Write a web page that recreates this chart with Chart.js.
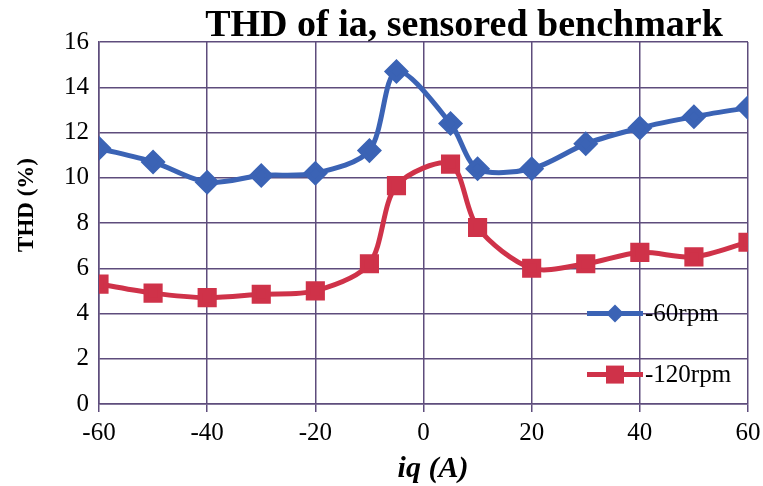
<!DOCTYPE html>
<html>
<head>
<meta charset="utf-8">
<script src="https://cdn.jsdelivr.net/npm/chart.js@4.4.1/dist/chart.umd.min.js"></script>
<style>
  html, body { margin: 0; padding: 0; background: #fff; }
  #wrap { width: 763px; height: 486px; }
</style>
</head>
<body>
<div id="wrap"><canvas id="thdChart" width="763" height="486"></canvas></div>
<script>
const iq = [-60, -50, -40, -30, -20, -10, -5, 5, 10, 20, 30, 40, 50, 60];
const thd60 = [11.3, 10.7, 9.8, 10.1, 10.2, 11.2, 14.7, 12.4, 10.4, 10.4, 11.5, 12.2, 12.7, 13.1];
const thd120 = [5.3, 4.9, 4.7, 4.85, 5.0, 6.2, 9.65, 10.6, 7.8, 6.0, 6.2, 6.7, 6.5, 7.15];
const xTicks = [-60, -40, -20, 0, 20, 40, 60];

const blue = "#3b63b5";
const red = "#cf3249";
const gridCol = "#5e4d7c";
const serif = "'Liberation Serif', 'Times New Roman', serif";

// title, axis titles and in-plot legend, drawn on the canvas
const extras = {
  id: "extras",
  afterDraw(chart) {
    const c = chart.ctx;
    c.save();
    c.fillStyle = "#000";
    c.textAlign = "center";
    c.textBaseline = "alphabetic";
    c.font = "bold 38px " + serif;
    c.fillText("THD of ia, sensored benchmark", 464, 36);

    c.font = "italic bold 30px " + serif;
    c.fillText("iq (A)", 433, 477);

    c.save();
    c.translate(27, 205);
    c.rotate(-Math.PI / 2);
    c.textBaseline = "middle";
    c.font = "bold 23px " + serif;
    c.fillText("THD (%)", 0, 0);
    c.restore();

    const y = chart.scales.y;
    const rows = [
      { ds: chart.data.datasets[0], yv: 4 },
      { ds: chart.data.datasets[1], yv: 1.3 },
    ];
    c.font = "25px " + serif;
    c.textAlign = "left";
    c.textBaseline = "middle";
    rows.forEach((r) => {
      const py = y.getPixelForValue(r.yv);
      c.strokeStyle = r.ds.borderColor;
      c.lineWidth = 5;
      c.beginPath();
      c.moveTo(587, py);
      c.lineTo(643, py);
      c.stroke();
      c.fillStyle = r.ds.borderColor;
      c.beginPath();
      if (r.ds.pointStyle === "rectRot") {
        const s = 9;
        c.moveTo(615, py - s);
        c.lineTo(615 + s, py);
        c.lineTo(615, py + s);
        c.lineTo(615 - s, py);
        c.closePath();
      } else {
        c.rect(606, py - 9, 18, 18);
      }
      c.fill();
      c.fillStyle = "#000";
      c.fillText(r.ds.label, 645, py + 1);
    });
    c.restore();
  },
};

new Chart(document.getElementById("thdChart"), {
  type: "line",
  data: {
    datasets: [
      {
        label: "-60rpm",
        data: iq.map((v, i) => ({ x: v, y: thd60[i] })),
        borderColor: blue,
        backgroundColor: blue,
        borderWidth: 5,
        pointStyle: "rectRot",
        pointRadius: 9,
        pointHoverRadius: 9,
        tension: 0.3,
      },
      {
        label: "-120rpm",
        data: iq.map((v, i) => ({ x: v, y: thd120[i] })),
        borderColor: red,
        backgroundColor: red,
        borderWidth: 5,
        pointStyle: "rect",
        pointRadius: 10,
        pointHoverRadius: 10,
        tension: 0.3,
      },
    ],
  },
  options: {
    responsive: false,
    animation: false,
    layout: { padding: { top: 42, right: 15, left: 0, bottom: 0 } },
    plugins: {
      legend: { display: false },
      title: { display: false },
      tooltip: { enabled: false },
    },
    scales: {
      x: {
        type: "linear",
        min: -60,
        max: 60,
        afterBuildTicks: (s) => { s.ticks = xTicks.map((v) => ({ value: v })); },
        afterFit: (s) => { s.height = 82; s.paddingLeft = 0; s.paddingRight = 0; },
        ticks: { color: "#000", font: { family: serif, size: 25 }, padding: 6 },
        grid: { color: gridCol, lineWidth: 1.5, tickLength: 8 },
        border: { color: gridCol, width: 1.5 },
      },
      y: {
        min: 0,
        max: 16,
        ticks: { stepSize: 2, color: "#000", font: { family: serif, size: 25 }, padding: 10 },
        afterFit: (s) => { s.width = 99; s.paddingTop = 0; s.paddingBottom = 0; },
        grid: { color: gridCol, lineWidth: 1.5, tickLength: 0 },
        border: { color: gridCol, width: 1.5 },
      },
    },
  },
  plugins: [extras],
});
</script>
</body>
</html>
